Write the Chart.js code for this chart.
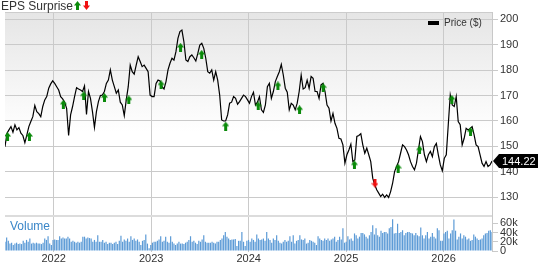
<!DOCTYPE html>
<html>
<head>
<meta charset="utf-8">
<script src="https://cdn.jsdelivr.net/npm/chart.js@4.4.1/dist/chart.umd.min.js"></script>
<style>
  html, body { margin: 0; padding: 0; background: #fff; }
</style>
</head>
<body>
<canvas id="epsChart" width="538" height="262"></canvas>
<script>
// weekly closing price, mid 2021 -> mid 2026
const prices = [
  149.9,155.2,156.5,157.8,155.6,158.5,156.5,157.4,155.2,154.3,
  151.5,154.5,157.8,159.8,161.7,166.1,163.7,162.9,161.7,165.7,
  168.3,169.6,172.9,174.6,175.8,174.8,173.5,172.2,169.6,168.7,
  167.4,165.0,154.3,162.4,165.7,169.6,173.1,172.6,172.2,171.6,
  173.8,162.6,171.6,168.9,163.7,157.5,163.7,167.6,170.0,170.2,
  171.6,174.8,176.1,180.1,176.1,173.5,170.9,172.2,167.4,166.3,
  162.1,168.3,173.5,182.0,179.4,178.4,182.0,185.3,183.4,181.4,
  182.0,180.7,179.4,170.2,169.6,169.6,174.8,176.1,175.8,173.5,
  172.6,175.5,180.1,182.7,184.7,184.0,187.3,192.5,195.2,195.8,
  191.2,184.0,183.4,185.3,186.0,184.9,183.6,186.6,189.9,190.6,
  188.6,184.7,179.4,178.8,180.1,176.1,179.4,176.1,170.2,160.4,
  160.0,160.0,162.4,167.0,167.4,169.6,168.9,166.6,167.6,168.9,
  170.2,169.6,168.3,167.0,169.6,171.3,166.3,167.4,169.6,164.4,
  163.4,166.3,173.5,174.8,168.9,171.6,175.5,177.5,179.4,182.3,
  178.1,172.9,171.3,164.4,167.0,166.3,164.4,167.0,171.6,178.1,
  172.6,173.1,176.1,172.9,177.5,176.8,171.6,171.6,168.9,174.2,
  174.8,171.6,166.3,165.0,
  160.0,163.0,159.1,157.1,153.2,152.9,150.6,143.4,146.7,148.6,
  150.9,144.0,144.7,153.9,154.3,155.0,150.6,147.3,149.3,146.7,
  144.0,137.5,134.9,132.9,131.6,130.3,131.2,129.9,130.9,129.9,
  132.2,135.5,140.1,142.1,144.0,147.3,150.6,149.9,148.6,146.7,
  144.0,142.1,140.8,143.4,148.6,153.9,151.9,146.7,144.0,146.7,
  148.0,146.0,149.9,151.2,146.7,142.7,140.4,145.3,146.7,158.5,
  170.2,166.3,165.7,169.6,159.8,158.5,150.6,153.2,157.1,156.5,
  157.1,157.8,154.5,150.6,149.9,146.7,143.4,142.1,144.0,142.1,
  142.7,144.22
];

// weekly volume in thousands
const volumes = [
  20,29,22,16,18,13,16,18,15,16,15,22,18,24,20,27,16,18,16,18,
  16,16,15,18,27,24,32,16,13,24,25,24,24,32,27,29,27,27,31,27,
  20,22,20,18,20,18,20,31,31,27,29,28,27,20,24,20,34,20,20,24,
  18,20,15,18,18,15,18,20,15,22,33,20,25,22,27,20,32,24,27,22,
  25,20,13,22,24,36,16,6,13,18,20,20,22,25,32,20,22,31,20,18,
  32,20,16,13,16,20,16,
  16,15,18,20,24,32,20,22,18,15,22,20,25,34,20,18,18,18,20,18,
  16,20,20,24,27,34,41,31,27,24,25,25,26,11,22,22,41,20,11,22,
  24,20,27,24,20,36,27,24,25,27,22,41,27,24,18,27,24,34,22,18,
  16,20,24,20,22,32,20,34,16,22,24,34,25,24,27,16,18,24,22,20,
  18,13,32,27,24,22,27,24,27,22,25,27,31,20,24,31,25,49,18,20,
  32,25,27,22,38,34,27,31,
  39,39,36,31,27,34,41,56,36,49,34,31,44,39,41,41,38,49,52,69,
  38,39,59,39,41,45,34,39,41,41,39,38,34,39,34,32,51,34,27,34,
  41,27,31,39,31,27,49,45,22,22,38,41,44,27,38,45,68,44,25,31,
  38,27,34,31,25,27,22,24,36,31,27,24,25,27,34,38,39,44,45,41
];

// earnings reports: beats (green up) and misses (red down)
const beatDates = ['2021-07-12','2021-10-02','2022-02-06','2022-04-23','2022-07-10','2022-10-09',
  '2023-02-07','2023-04-21','2023-07-09','2023-10-07','2024-02-06','2024-04-20','2024-07-10',
  '2024-10-07','2025-02-01','2025-07-15','2025-10-03','2026-02-01','2026-04-12'];
const beatPrices = [153.9,153.9,166.6,169.9,169.2,168.3,174.2,189.0,186.2,158.0,165.9,173.8,
  164.4,173.1,142.7,141.4,148.6,168.5,155.8];
const missDates = ['2025-04-19'];
const missPrices = [135.5];

const yearTicks = [2022, 2023, 2024, 2025, 2026];
const priceTicks = [130, 140, 150, 160, 170, 180, 190, 200];
const volumeTicks = [0, 20000, 40000, 60000];

const START = 2021.5, END = 2026.497;
const FONT = '"Liberation Sans", Arial, sans-serif';

function toYear(d) {
    const t = Date.parse(d + 'T00:00:00Z');
    const y = new Date(t).getUTCFullYear();
    const s = Date.UTC(y, 0, 1), e = Date.UTC(y + 1, 0, 1);
    return y + (t - s) / (e - s);
}

//  small arrow glyph used as point style
function makeArrow(color, up) {
    const c = document.createElement('canvas');
    c.width = 7; c.height = 9;
    const g = c.getContext('2d');
    g.fillStyle = color;
    g.save();
    if (!up) { g.translate(0, 9); g.scale(1, -1); }
    g.beginPath();
    g.moveTo(0, 4.5); g.lineTo(3.5, 0); g.lineTo(7, 4.5);
    g.closePath(); g.fill();
    g.fillRect(2, 4, 3, 5);
    g.restore();
    return c;
}
const greenArrow = makeArrow('#0a8a0a', true);
const redArrow = makeArrow('#f01010', false);

const priceX = prices.map((p, i) => START + i * (END - START) / (prices.length - 1));
const volX = volumes.map((v, i) => START + i * (END - START) / (volumes.length - 1));

// background gradient, panel separator, title, legend and last price tag
const decor = {
    id: 'decor',
    beforeDraw(chart) {
        const { ctx, chartArea } = chart;
        const yb = chart.scales.y.bottom;
        const grad = ctx.createLinearGradient(0, chartArea.top, 0, chartArea.top + 120);
        grad.addColorStop(0, '#e5e5e5');
        grad.addColorStop(1, '#ffffff');
        ctx.save();
        ctx.fillStyle = grad;
        ctx.fillRect(chartArea.left, chartArea.top, chartArea.right - chartArea.left, yb - chartArea.top);
        ctx.restore();
    },
    beforeDatasetsDraw(chart) {
        const { ctx, chartArea } = chart;
        const yb = chart.scales.y.bottom;
        ctx.save();
        ctx.strokeStyle = '#dcdcdc';
        ctx.lineWidth = 2;
        ctx.beginPath(); ctx.moveTo(chartArea.left, yb); ctx.lineTo(chartArea.right, yb); ctx.stroke();
        ctx.strokeStyle = '#cccccc';
        ctx.lineWidth = 1;
        ctx.beginPath(); ctx.moveTo(chartArea.left, chartArea.top + 0.5); ctx.lineTo(chartArea.right, chartArea.top + 0.5); ctx.stroke();
        ctx.restore();
    },
    afterDraw(chart) {
        const { ctx, chartArea } = chart;
        ctx.save();
        // title
        ctx.fillStyle = '#333';
        ctx.font = '12px ' + FONT;
        ctx.textBaseline = 'alphabetic';
        ctx.fillText('EPS Surprise', 1, 9.5);
        ctx.drawImage(greenArrow, 74, 1);
        ctx.drawImage(redArrow, 83, 1);
        // legend
        ctx.fillStyle = '#000';
        ctx.fillRect(428, 21, 11, 4);
        ctx.fillStyle = '#333';
        ctx.font = '10px ' + FONT;
        ctx.textBaseline = 'middle';
        ctx.fillText('Price ($)', 444, 23.5);
        // volume label
        ctx.fillStyle = '#3a86c8';
        ctx.font = '12px ' + FONT;
        ctx.fillText('Volume', 10, 227);
        // last price tag
        const last = prices[prices.length - 1];
        const yc = chart.scales.y.getPixelForValue(last);
        const x0 = chartArea.right + 1;
        ctx.fillStyle = '#000';
        ctx.beginPath();
        ctx.moveTo(x0, yc); ctx.lineTo(x0 + 6, yc - 7); ctx.lineTo(538, yc - 7);
        ctx.lineTo(538, yc + 7); ctx.lineTo(x0 + 6, yc + 7); ctx.closePath(); ctx.fill();
        ctx.fillStyle = '#fff';
        ctx.font = '11px ' + FONT;
        ctx.fillText(last.toFixed(2), 502, yc + 0.5);
        ctx.restore();
    }
};

const ctx = document.getElementById('epsChart').getContext('2d');
window.myChart = new Chart(ctx, {
    data: {
        datasets: [
            { type: 'scatter', data: beatDates.map((d, i) => ({ x: toYear(d), y: beatPrices[i] })),
              yAxisID: 'y', pointStyle: greenArrow, pointRadius: 4, order: 0 },
            { type: 'scatter', data: missDates.map((d, i) => ({ x: toYear(d), y: missPrices[i] })),
              yAxisID: 'y', pointStyle: redArrow, pointRadius: 4, order: 0 },
            { type: 'line', label: 'Price ($)', data: prices.map((p, i) => ({ x: priceX[i], y: p })),
              yAxisID: 'y', borderColor: '#000', borderWidth: 1.2, pointRadius: 0, tension: 0, order: 1 },
            { type: 'bar', label: 'Volume', data: volumes.map((v, i) => ({ x: volX[i], y: v * 1000 })),
              yAxisID: 'yVol', backgroundColor: '#5b9ad6', barPercentage: 0.72, categoryPercentage: 1, order: 2 }
        ]
    },
    options: {
        responsive: false,
        animation: false,
        layout: { padding: { top: 12, left: 0, right: 0, bottom: 0 } },
        plugins: { legend: { display: false }, tooltip: { enabled: false } },
        scales: {
            x: {
                type: 'linear', min: START, max: END, offset: false,
                afterBuildTicks: a => { a.ticks = yearTicks.map(v => ({ value: v })); },
                afterFit: s => { s.height = 11; },
                ticks: { callback: v => String(v), color: '#333', font: { family: FONT, size: 11 }, padding: 0, maxRotation: 0, autoSkip: false },
                grid: { color: '#cacaca', tickLength: 1, offset: false },
                border: { display: false }
            },
            y: {
                position: 'right', stack: 'panels', stackWeight: 204,
                min: 122.6, max: 202.9,
                afterBuildTicks: a => { a.ticks = priceTicks.map(v => ({ value: v })); },
                afterFit: s => { s.width = 46; },
                ticks: { callback: v => String(v), color: '#333', font: { family: FONT, size: 11 }, padding: 2, autoSkip: false },
                grid: { color: '#cacaca', tickLength: 6 },
                border: { color: '#c8c8c8' }
            },
            yVol: {
                position: 'right', stack: 'panels', stackWeight: 35,
                min: 0, max: 75800,
                afterBuildTicks: a => { a.ticks = volumeTicks.map(v => ({ value: v })); },
                afterFit: s => { s.width = 46; },
                ticks: { callback: v => v === 0 ? '0' : (v / 1000) + 'k', color: '#333', font: { family: FONT, size: 11 }, padding: 2, autoSkip: false },
                grid: { color: '#cacaca', tickLength: 6, drawOnChartArea: false },
                border: { color: '#c8c8c8' }
            }
        }
    },
    plugins: [decor]
});
</script>
</body>
</html>
